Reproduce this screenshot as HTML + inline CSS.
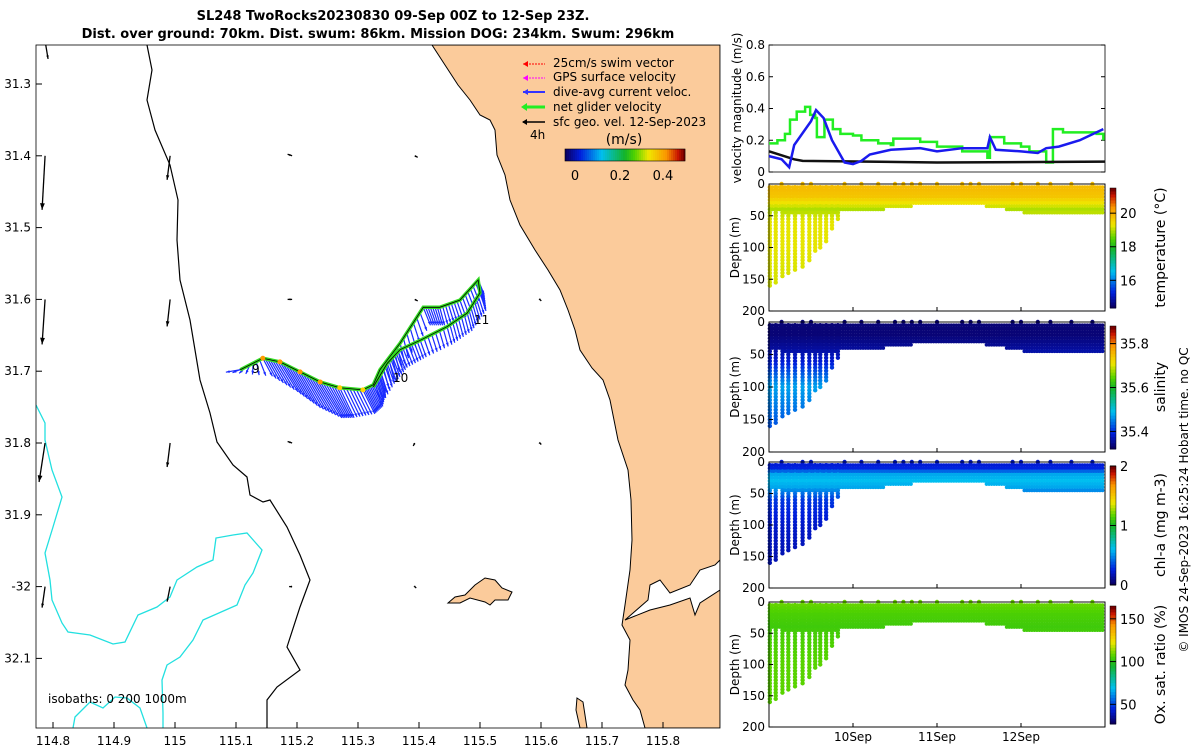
<!DOCTYPE html>
<html><head><meta charset="utf-8"><style>
body{margin:0;background:#fff;}
svg{display:block;font-family:"DejaVu Sans","Liberation Sans",sans-serif;}
</style></head><body>
<svg id="fig" width="1200" height="750" viewBox="0 0 1200 750">
<text x="393" y="20" font-size="13" font-weight="bold" text-anchor="middle">SL248 TwoRocks20230830 09-Sep 00Z to 12-Sep 23Z.</text>
<text x="378" y="38" font-size="13" font-weight="bold" text-anchor="middle">Dist. over ground: 70km. Dist. swum: 86km. Mission DOG: 234km. Swum: 296km</text>
<defs><clipPath id="mapclip"><rect x="36" y="45" width="684" height="683"/></clipPath></defs>
<g id="map">
<g clip-path="url(#mapclip)">
<path fill="#fbcb9b" stroke="#000" stroke-width="1"
 d="M432,45 L445,65 L458,85 L470,100 L480,115 L490,120 L495,130 L497,155 L505,175 L510,200 L520,225 L535,250 L548,270 L560,290 L568,310 L575,330 L580,350 L592,368 L603,380 L610,400 L618,440 L628,470 L631,500 L632,540 L630,570 L625,605 L622,625 L630,640 L628,670 L625,685 L633,700 L640,710 L645,728 L720,728 L720,45 Z"/>
<path fill="#fff" stroke="#000" stroke-width="1" d="M625,620 L648,600 L650,585 L660,580 L670,593 L690,585 L700,570 L715,565 L720,560 L720,590 L700,603 L695,615 L690,598 L670,605 L650,610 Z"/>
<path fill="#fbcb9b" stroke="#000" stroke-width="1" d="M448,603 L455,597 L465,595 L475,585 L485,578 L495,580 L502,588 L512,592 L508,600 L495,600 L490,605 L485,602 L470,598 L460,603 Z"/>
<path fill="#fbcb9b" stroke="#000" stroke-width="1" d="M577,698 L583,702 L587,728 L580,728 L576,710 Z"/>
<path fill="none" stroke="#000" stroke-width="1.2" d="M147,45 L152,70 L147,100 L155,130 L170,165 L178,200 L177,240 L180,280 L190,320 L200,380 L210,413 L217,442 L233,465 L247,477 L250,495 L263,502 L270,500 L287,527 L300,555 L310,580 L300,607 L287,647 L300,670 L277,687 L267,700 L267,728"/>
<path fill="none" stroke="#22e0e0" stroke-width="1.3" d="M36,405 L45,423 L45,440 L52,470 L62,497 L53,527 L45,553 L50,580 L52,600 L62,623 L68,632 L90,635 L113,644 L125,642 L138,615 L157,607 L170,597 L177,580 L197,567 L213,560 L216,538 L233,535 L247,533 L262,550 L253,573 L245,585 L237,605 L203,620 L193,640 L180,657 L167,665 L162,680 L163,713 L163,728"/>
<path fill="none" stroke="#22e0e0" stroke-width="1.3" d="M73,728 L75,717 L90,702 L103,708 L115,697 L127,698 L140,708 L147,728"/>
<g id="geoArrows"></g>
<g id="track"></g>
</g>
<rect x="36" y="45" width="684" height="683" fill="none" stroke="#000" stroke-width="0.8"/>
<g id="mapAxes"></g>
<text x="252" y="373" font-size="12">9</text>
<text x="393" y="382" font-size="12">10</text>
<text x="474" y="324" font-size="12">11</text>
<text x="48" y="703" font-size="12">isobaths: 0   200  1000m</text>
<g id="legend" font-size="12">
<g><line x1="523" y1="64" x2="545" y2="64" stroke="#f00" stroke-width="1" stroke-dasharray="2,1"/><path d="M523,64 l5,-3 v6z" fill="#f00"/><text x="553" y="67">25cm/s swim vector</text></g>
<g><line x1="523" y1="78" x2="545" y2="78" stroke="#f0f" stroke-width="1" stroke-dasharray="2,1"/><path d="M523,78 l5,-3 v6z" fill="#f0f"/><text x="553" y="81">GPS surface velocity</text></g>
<g><line x1="523" y1="92" x2="545" y2="92" stroke="#33f" stroke-width="2"/><path d="M523,92 l5,-3 v6z" fill="#33f"/><text x="553" y="96">dive-avg current veloc.</text></g>
<g><line x1="523" y1="107" x2="545" y2="107" stroke="#2e2" stroke-width="3"/><path d="M521,107 l6,-4 v8z" fill="#2e2"/><text x="553" y="111">net glider velocity</text></g>
<g><line x1="523" y1="122" x2="545" y2="122" stroke="#000" stroke-width="1.5"/><path d="M522,122 l5,-3 v6z" fill="#000"/><text x="553" y="126">sfc geo. vel. 12-Sep-2023</text></g>
<text x="530" y="139">4h</text>
<text x="624" y="144" font-size="14" text-anchor="middle">(m/s)</text>
</g>
<g id="mapCbar"></g>
</g>
<g id="right"></g>
<text transform="translate(1188,500) rotate(-90)" font-size="12" text-anchor="middle">© IMOS 24-Sep-2023 16:25:24 Hobart time. no QC</text>
</svg>
<script>
// ---------- DATA ----------
const lonTicks=[114.8,114.9,115,115.1,115.2,115.3,115.4,115.5,115.6,115.7,115.8];
const latTicks=[31.3,31.4,31.5,31.6,31.7,31.8,31.9,32.0,32.1];
const latLabels=["31.3","31.4","31.5","31.6","31.7","31.8","31.9","-32","32.1"];
const trackLon=[115.107,115.144,115.172,115.205,115.238,115.270,115.308,115.325,115.336,115.369,115.407,115.434,115.467,115.497,115.500,115.479,115.446,115.402,115.369,115.348,115.325];
const trackLat=[31.698,31.682,31.687,31.701,31.715,31.723,31.726,31.719,31.698,31.661,31.611,31.611,31.601,31.573,31.591,31.619,31.638,31.657,31.670,31.689,31.722];
const curU=[-0.12,0.08,0.15,0.17,0.18,0.12,0.10,0.08,0.05,0.04,0.06,0.04,0.05,0.05,0.05,0.04,0.04,0.05,0.06,0.06,0.05];
const curV=[-0.02,-0.15,-0.25,-0.30,-0.30,-0.25,-0.20,-0.18,-0.18,-0.17,-0.15,-0.15,-0.14,-0.12,-0.15,-0.15,-0.15,-0.14,-0.15,-0.17,-0.18];
const geoLon=[114.787,114.787,114.787,114.787,114.787,114.992,114.992,114.992,114.992,115.192,115.192,115.192,115.192,115.393,115.393,115.393,115.393,115.598,115.598];
const geoLat=[31.24,31.40,31.60,31.80,32.00,31.40,31.60,31.80,32.00,31.40,31.60,31.80,32.00,31.40,31.60,31.80,32.00,31.60,31.80];
const geoU=[0.01,-0.01,-0.01,-0.02,-0.01,-0.01,-0.01,-0.01,-0.01,-0.015,-0.015,-0.015,-0.01,0.01,0.01,-0.005,0.005,0.005,0.005];
const geoV=[-0.06,-0.18,-0.15,-0.13,-0.07,-0.08,-0.09,-0.08,-0.05,0.005,0,0.005,0,-0.005,-0.005,-0.01,-0.005,-0.005,-0.005];
// velocity panel
const greenT=[0,0.1,0.19,0.25,0.33,0.43,0.49,0.55,0.57,0.65,0.66,0.76,0.85,1.0,1.1,1.3,1.45,1.48,1.8,2.0,2.3,2.6,2.63,2.8,3.0,3.1,3.3,3.38,3.5,3.9,3.98];
const greenV=[0.18,0.2,0.24,0.33,0.38,0.41,0.36,0.34,0.22,0.22,0.33,0.27,0.24,0.23,0.2,0.18,0.17,0.21,0.19,0.16,0.13,0.09,0.22,0.18,0.16,0.13,0.06,0.27,0.25,0.24,0.2];
const blueT=[0,0.15,0.24,0.3,0.5,0.56,0.65,0.75,0.9,1.0,1.1,1.2,1.45,1.8,2.0,2.3,2.6,2.63,2.7,3.0,3.2,3.3,3.45,3.7,3.98];
const blueV=[0.1,0.08,0.03,0.17,0.32,0.39,0.34,0.2,0.06,0.05,0.07,0.11,0.14,0.15,0.13,0.15,0.15,0.22,0.14,0.13,0.12,0.15,0.16,0.2,0.27];
const blackT=[0,0.3,0.4,2.0,4.0];
const blackV=[0.13,0.08,0.07,0.06,0.065];
const velTicks=[0,0.2,0.4,0.6,0.8];
// profiles
const earlyT=[0.01,0.08,0.16,0.23,0.31,0.4,0.48,0.55,0.61,0.68,0.75,0.82];
const earlyD=[160,155,148,140,135,130,120,105,100,90,70,55];
const denseD=[42,44,45,46,46,46,45,45,44,44,43,42,40,38,36,35,34,33,33,33,33,33,34,34,35,36,40,44,46,47,47,47,46,47,47,46];
const surfT=[0.15,0.4,0.5,0.9,1.1,1.3,1.5,1.6,1.7,1.8,2.0,2.3,2.4,2.5,2.9,3.0,3.2,3.35,3.6,3.85];
const layerDepth=[0,10,20,30,40,60,100,160];
const tempProf=[19.9,19.9,19.8,19.4,19.0,19.3,19.3,19.2];
const salProf=[35.33,35.33,35.33,35.34,35.35,35.38,35.47,35.42];
const chlProf=[0.2,0.25,0.55,0.6,0.55,0.3,0.2,0.15];
const oxyProf=[110,108,106,105,104,106,108,108];
const dayLabels=["10Sep","11Sep","12Sep"];
const depthTicks=[0,50,100,150,200];

const NS="http://www.w3.org/2000/svg";
function el(tag,attrs,parent){const e=document.createElementNS(NS,tag);for(const k in attrs)e.setAttribute(k,attrs[k]);parent.appendChild(e);return e;}
const CM=[[0,10,0,100],[0.12,0,30,220],[0.3,0,190,240],[0.5,20,180,40],[0.58,80,210,0],[0.7,240,230,0],[0.85,250,150,0],[0.95,200,20,0],[1,120,0,0]];
function jet(f){f=Math.max(0,Math.min(1,f));for(let i=0;i<CM.length-1;i++){if(f<=CM[i+1][0]){const a=CM[i],b=CM[i+1],u=(f-a[0])/(b[0]-a[0]);
 return `rgb(${Math.round(a[1]+(b[1]-a[1])*u)},${Math.round(a[2]+(b[2]-a[2])*u)},${Math.round(a[3]+(b[3]-a[3])*u)})`;}}return 'rgb(120,0,0)';}
const mx=lon=>175+(lon-115)*610, my=lat=>84+(lat-31.3)*718;

const ma=document.getElementById('mapAxes');
lonTicks.forEach(l=>{const x=mx(l);el('line',{x1:x,y1:728,x2:x,y2:722,stroke:'#000'},ma);
 const t=el('text',{x:x,y:745,'font-size':12,'text-anchor':'middle'},ma);t.textContent=String(l);
 
 });
latTicks.forEach((l,i)=>{const y=my(l);el('line',{x1:36,y1:y,x2:42,y2:y,stroke:'#000'},ma);
 const t=el('text',{x:31,y:y+4,'font-size':12,'text-anchor':'end'},ma);t.textContent=latLabels[i];
 
 });

function arrow(g,x1,y1,x2,y2,col,w,hs){el('line',{x1,y1,x2,y2,stroke:col,'stroke-width':w},g);
 const a=Math.atan2(y2-y1,x2-x1),L=hs;
 el('path',{d:`M${x2},${y2} L${x2-L*Math.cos(a-0.35)},${y2-L*Math.sin(a-0.35)} L${x2-L*Math.cos(a+0.35)},${y2-L*Math.sin(a+0.35)} Z`,fill:col},g);}
const ga=document.getElementById('geoArrows');
geoLon.forEach((lo,i)=>{const x=mx(lo),y=my(geoLat[i]);const sc=300;
 const g=el('g',{},ga);
 
 
 arrow(g,x,y,x+geoU[i]*sc,y-geoV[i]*sc,'#000',1.3,Math.max(3,Math.min(7,Math.hypot(geoU[i],geoV[i])*60)));});
const tr=document.getElementById('track');
const SC=120;
for(let i=0;i<trackLon.length-1;i++){
 for(let k=0;k<7;k++){const f=k/7;
  const x=mx(trackLon[i]+(trackLon[i+1]-trackLon[i])*f), y=my(trackLat[i]+(trackLat[i+1]-trackLat[i])*f);
  const u=curU[i]+(curU[i+1]-curU[i])*f, v=curV[i]+(curV[i+1]-curV[i])*f;
  const g=el('g',{},tr);
  
  
  arrow(g,x,y,x+u*SC,y-v*SC,'#1a2cff',1.2,4);}}
const pts=trackLon.map((l,i)=>mx(l)+','+my(trackLat[i])).join(' ');
const tl=el('polyline',{points:pts,fill:'none',stroke:'#33dd22','stroke-width':3.5},tr);


el('polyline',{points:pts,fill:'none',stroke:'#000','stroke-width':0.8},tr);
for(let i=1;i<7;i++){const c=el('circle',{cx:mx(trackLon[i]),cy:my(trackLat[i]),r:2.5,fill:i<5?'#ff9a00':'#ffd000'},tr);
 
 }
const mc=document.getElementById('mapCbar');
for(let i=0;i<60;i++){el('rect',{x:565+i*2,y:149,width:2.2,height:12,fill:jet(i/59)},mc);}
el('rect',{x:565,y:149,width:120,height:12,fill:'none',stroke:'#000','stroke-width':0.6},mc);
[[575,'0'],[620,'0.2'],[663,'0.4']].forEach(([x,s])=>{const t=el('text',{x,y:180,'font-size':13,'text-anchor':'middle'},mc);t.textContent=s;});

// ---------- right panels ----------
const R=document.getElementById('right');
const X0=769,X1=1105,DAY=84;const tx=t=>X0+t*DAY;
const vp=el('g',{},R);
const vy=v=>172-v*158.75;
el('rect',{x:X0,y:45,width:X1-X0,height:127,fill:'#fff',stroke:'#000','stroke-width':0.8},vp);
velTicks.forEach(v=>{el('line',{x1:X0,y1:vy(v),x2:X0+4,y2:vy(v),stroke:'#000'},vp);el('line',{x1:X1,y1:vy(v),x2:X1-4,y2:vy(v),stroke:'#000'},vp);
 const t=el('text',{x:X0-4,y:vy(v)+4,'font-size':12,'text-anchor':'end'},vp);t.textContent=String(v);});
const vt=el('text',{transform:'translate(741,108) rotate(-90)','font-size':12,'text-anchor':'middle'},vp);vt.textContent='velocity magnitude (m/s)';
function stepLine(T,V){let d='';T.forEach((t,i)=>{if(i==0)d+=`M${tx(t)},${vy(V[i])}`;else d+=` H${tx(t)} V${vy(V[i])}`;});return d+` H${tx(T[T.length-1])}`;}
function line(T,V){return T.map((t,i)=>(i?'L':'M')+tx(t)+','+vy(V[i])).join(' ');}
const gl=el('path',{d:stepLine(greenT,greenV),fill:'none',stroke:'#22ee22','stroke-width':2.5},vp);
const kl=el('path',{d:line(blackT,blackV),fill:'none',stroke:'#111','stroke-width':2.5},vp);
const bl=el('path',{d:line(blueT,blueV),fill:'none',stroke:'#1a1aee','stroke-width':2.5},vp);

function interp(d,prof){for(let i=0;i<layerDepth.length-1;i++){if(d<=layerDepth[i+1]){const f=(d-layerDepth[i])/(layerDepth[i+1]-layerDepth[i]);return prof[i]+(prof[i+1]-prof[i])*f;}}return prof[prof.length-1];}
const panels=[
 {y0:184,y1:311,prof:tempProf,vmin:14.35,vmax:21.5,ticks:[16,18,20],title:'temperature (°C)',name:'temperature-panel'},
 {y0:322,y1:452,prof:salProf,vmin:35.32,vmax:35.88,ticks:[35.4,35.6,35.8],title:'salinity',name:'salinity-panel'},
 {y0:462,y1:588,prof:chlProf,vmin:0,vmax:2,ticks:[0,1,2],title:'chl-a (mg m-3)',name:'chlorophyll-panel'},
 {y0:602,y1:727,prof:oxyProf,vmin:27,vmax:165,ticks:[50,100,150],title:'Ox. sat. ratio (%)',name:'oxygen-panel'}];
panels.forEach((p,pi)=>{
 const g=el('g',{},R);
 
 
 const dy=d=>p.y0+d/200*(p.y1-p.y0);
 el('rect',{x:X0,y:p.y0,width:X1-X0,height:p.y1-p.y0,fill:'#fff',stroke:'#000','stroke-width':0.8},g);
 const col=d=>jet((interp(d,p.prof)-p.vmin)/(p.vmax-p.vmin));
 const dots=el('g',{},g);
 function prof(t,maxd,r){for(let d=5;d<=maxd;d+=5){el('circle',{cx:tx(t),cy:dy(d),r:r,fill:col(d)},dots);}}
 for(let t=0.04;t<3.98;t+=0.03){const b=Math.min(denseD.length-1,Math.round(t/0.11));prof(t,denseD[b],1.9);}
 earlyT.forEach((t,i)=>prof(t,earlyD[i],2.2));
 surfT.forEach(t=>el('circle',{cx:tx(t),cy:dy(0),r:2.2,fill:col(0)},dots));
 el('rect',{x:X0,y:p.y0,width:X1-X0,height:p.y1-p.y0,fill:'none',stroke:'#000','stroke-width':0.8},g);
 depthTicks.forEach(d=>{el('line',{x1:X0,y1:dy(d),x2:X0+4,y2:dy(d),stroke:'#000'},g);
  const t=el('text',{x:X0-4,y:dy(d)+4,'font-size':12,'text-anchor':'end'},g);t.textContent=String(d);});
 [1,2,3].forEach(d=>{el('line',{x1:tx(d),y1:p.y1,x2:tx(d),y2:p.y1-4,stroke:'#000'},g);});
 const yl=el('text',{transform:`translate(739,${(p.y0+p.y1)/2}) rotate(-90)`,'font-size':12,'text-anchor':'middle'},g);yl.textContent='Depth (m)';
 const cb=el('g',{},g);
 
 
 const cy0=p.y0+4,cy1=p.y1-3;
 for(let i=0;i<40;i++){el('rect',{x:1110,y:cy1-(i+1)*(cy1-cy0)/40,width:6,height:(cy1-cy0)/40+0.5,fill:jet(i/39)},cb);}
 el('rect',{x:1110,y:cy0,width:6,height:cy1-cy0,fill:'none',stroke:'#000','stroke-width':0.5},cb);
 p.ticks.forEach(v=>{const y=cy1-(v-p.vmin)/(p.vmax-p.vmin)*(cy1-cy0);el('line',{x1:1110,y1:y,x2:1116,y2:y,stroke:'#000'},cb);
  const t=el('text',{x:1120,y:y+5,'font-size':13},cb);t.textContent=String(v);});
 const ct=el('text',{transform:`translate(1165,${(p.y0+p.y1)/2}) rotate(-90)`,'font-size':14,'text-anchor':'middle'},g);ct.textContent=p.title;
});
dayLabels.forEach((s,i)=>{const t=el('text',{x:tx(i+1),y:741,'font-size':12,'text-anchor':'middle'},R);t.textContent=s;
 
 });
</script>
</body></html>
